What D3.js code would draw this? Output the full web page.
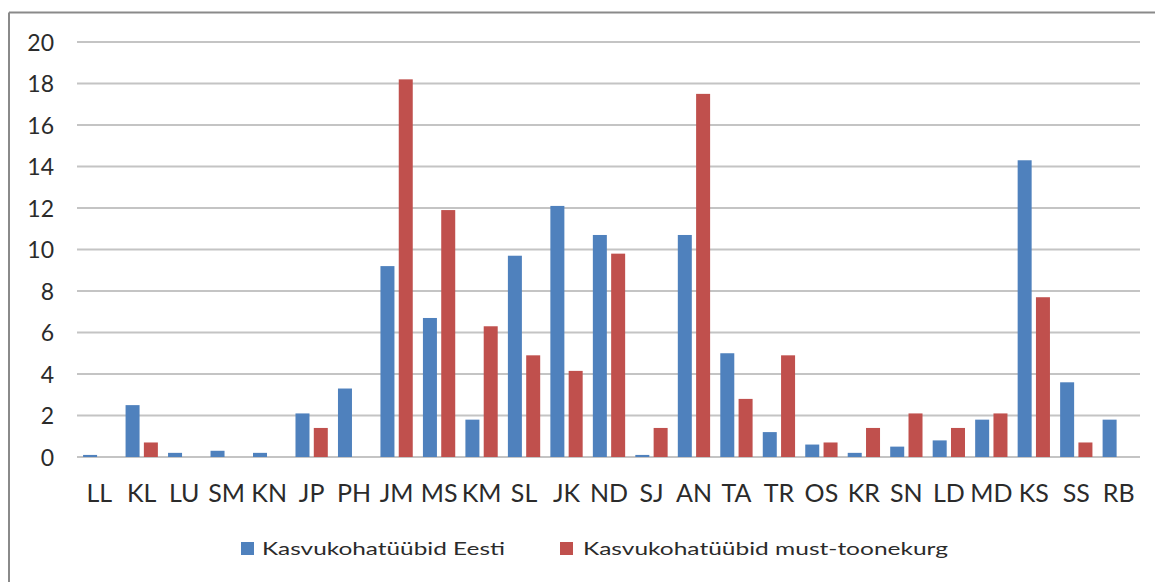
<!DOCTYPE html>
<html>
<head>
<meta charset="utf-8">
<script src="https://cdn.jsdelivr.net/npm/d3@7/dist/d3.min.js"></script>
<style>
  html, body { margin: 0; padding: 0; background: #fff; }
  svg { display: block; }
  text { font-family: Lato, "Open Sans", "Liberation Sans", sans-serif; fill: #2b2b2b; }
</style>
</head>
<body>
<svg id="chart" width="1155" height="582"></svg>
<script>
const categories = ["LL","KL","LU","SM","KN","JP","PH","JM","MS","KM","SL","JK","ND","SJ","AN","TA","TR","OS","KR","SN","LD","MD","KS","SS","RB"];
const seriesNames = ["Kasvukohatüübid Eesti", "Kasvukohatüübid must-toonekurg"];
const eesti = [0.1,2.5,0.2,0.3,0.2,2.1,3.3,9.2,6.7,1.8,9.7,12.1,10.7,0.1,10.7,5.0,1.2,0.6,0.2,0.5,0.8,1.8,14.3,3.6,1.8];
const toonekurg = [0,0.7,0,0,0,1.4,0,18.2,11.9,6.3,4.9,4.15,9.8,1.4,17.5,2.8,4.9,0.7,1.4,2.1,1.4,2.1,7.7,0.7,0];
const yTicks = [0,2,4,6,8,10,12,14,16,18,20];
const colors = ["#4F81BD", "#C0504D"];

const svg = d3.select("#chart");

// chart frame
svg.append("line").attr("x1", 9).attr("x2", 1155).attr("y1", 12.5).attr("y2", 12.5)
  .attr("stroke", "#8a8a8a").attr("stroke-width", 2);
svg.append("line").attr("x1", 9).attr("x2", 9).attr("y1", 12.5).attr("y2", 582)
  .attr("stroke", "#8a8a8a").attr("stroke-width", 2);

const x0 = d3.scaleBand().domain(categories).range([78, 1140]).paddingInner(0).paddingOuter(0);
const x1 = d3.scaleBand().domain([0, 1]).range([0, x0.bandwidth()]).paddingInner(0.235).paddingOuter(0.278);
const y = d3.scaleLinear().domain([0, 20]).range([457, 42]);

// gridlines
const grid = svg.append("g");
grid.selectAll("line").data(yTicks).join("line")
  .attr("x1", 77).attr("x2", 1140)
  .attr("y1", d => y(d)).attr("y2", d => y(d))
  .attr("stroke", "#c4c4c4").attr("stroke-width", 2);

// y axis labels
const yAxis = d3.axisLeft(y).tickValues(yTicks).tickSize(0).tickPadding(0);
const gy = svg.append("g").attr("transform", "translate(54,0)").call(yAxis);
gy.select(".domain").remove();
gy.selectAll("text").attr("font-size", 23).attr("dy", "0.36em")
  .style("font-family", "Lato, 'Open Sans', sans-serif").attr("fill", "#2b2b2b");

// bars
const data = categories.map((c, i) => ({ cat: c, vals: [eesti[i], toonekurg[i]] }));
const groups = svg.append("g").selectAll("g").data(data).join("g")
  .attr("transform", d => `translate(${x0(d.cat)},0)`);
groups.selectAll("rect").data(d => d.vals.map((v, k) => ({ v, k }))).join("rect")
  .attr("x", d => x1(d.k))
  .attr("width", x1.bandwidth())
  .attr("y", d => y(d.v))
  .attr("height", d => y(0) - y(d.v))
  .attr("fill", d => colors[d.k]);

// x axis labels
const xAxis = d3.axisBottom(x0).tickSize(0).tickPadding(0);
const gx = svg.append("g").attr("transform", "translate(0,502)").call(xAxis);
gx.select(".domain").remove();
gx.selectAll("text").attr("font-size", 25).attr("dy", 0).attr("y", 0)
  .style("font-family", "Lato, 'Open Sans', sans-serif").attr("fill", "#2b2b2b");

// legend
const legendItems = [
  { name: seriesNames[0], color: colors[0], sx: 241, tx: 262, tw: 243 },
  { name: seriesNames[1], color: colors[1], sx: 560, tx: 583, tw: 365 }
];
const lg = svg.append("g");
legendItems.forEach(it => {
  lg.append("rect").attr("x", it.sx).attr("y", 542).attr("width", 13).attr("height", 13).attr("fill", it.color);
  lg.append("text").attr("x", it.tx).attr("y", 555).attr("font-size", 18)
    .attr("textLength", it.tw).attr("lengthAdjust", "spacingAndGlyphs")
    .text(it.name);
});
</script>
</body>
</html>
